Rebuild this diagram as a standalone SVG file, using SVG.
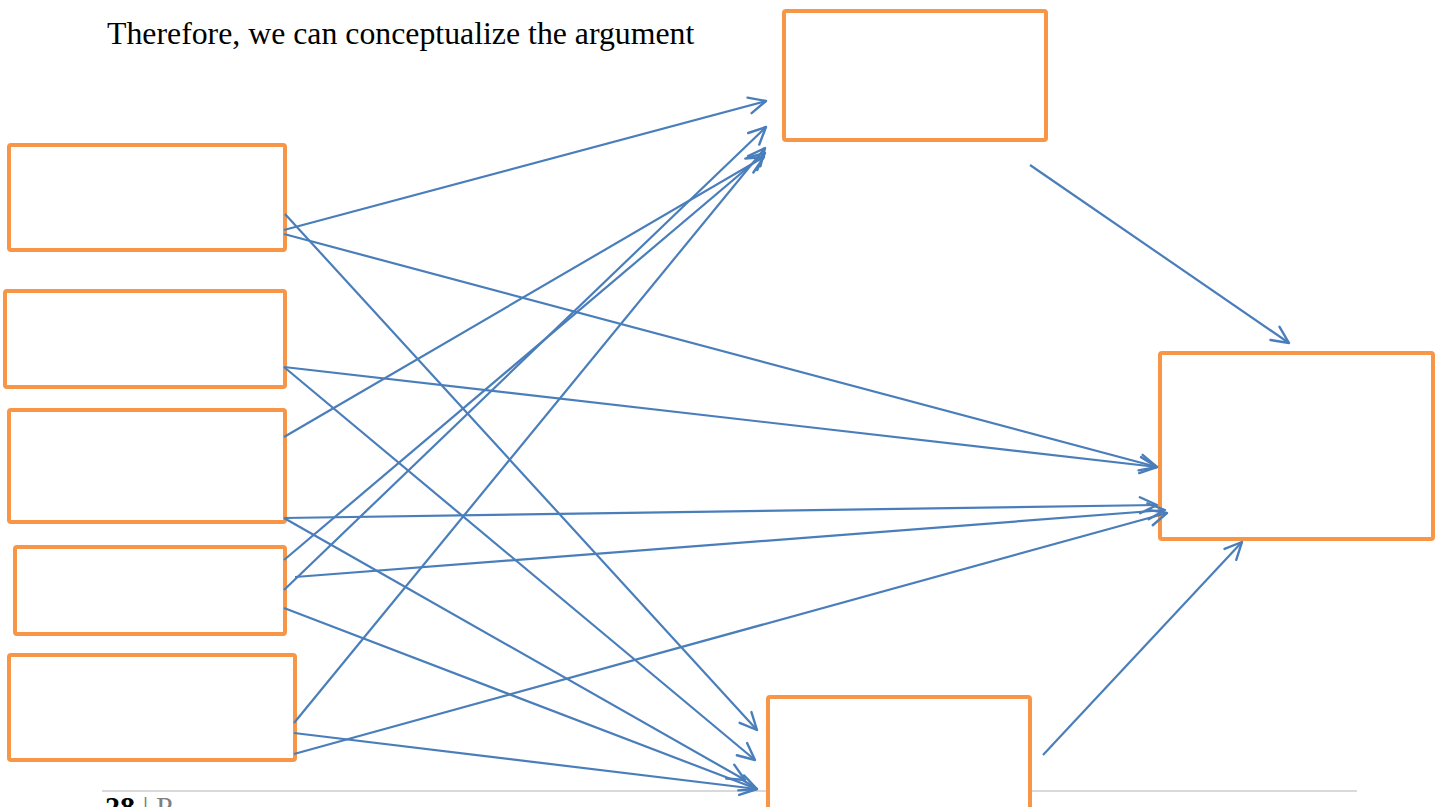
<svg xmlns="http://www.w3.org/2000/svg" width="1442" height="807" viewBox="0 0 1442 807">
<style>
.box{fill:#ffffff;stroke:#F79646;stroke-width:4;}
.c{fill:none;stroke:#4A7EBB;stroke-width:2.2;marker-end:url(#arr);}
.t{font-family:"Liberation Serif","Times New Roman",serif;fill:#000;}
</style>
<defs>
<marker id="arr" markerUnits="userSpaceOnUse" markerWidth="40" markerHeight="40" viewBox="-20 -20 40 40" refX="0" refY="0" orient="auto">
<path d="M-17,-8 L0,0 L-17,8" fill="none" stroke="#4A7EBB" stroke-width="2.4" stroke-linecap="round" stroke-linejoin="round"/>
</marker>
</defs>
<rect width="1442" height="807" fill="#ffffff"/>
<text class="t" x="107" y="44" font-size="31.8">Therefore, we can conceptualize the argument</text>
<line x1="102" y1="791" x2="1357" y2="791" stroke="#D9D9D9" stroke-width="2"/>
<text class="t" x="105" y="817" font-size="30"><tspan font-weight="bold">28</tspan><tspan fill="#7F7F7F"> | P</tspan></text>
<g id="box1"><rect class="box" x="9" y="145" width="276" height="105" rx="2"/></g>
<g id="box2"><rect class="box" x="5" y="291" width="280" height="96" rx="2"/></g>
<g id="box3"><rect class="box" x="9" y="410" width="276" height="112" rx="2"/></g>
<g id="box4"><rect class="box" x="15" y="547" width="270" height="87" rx="2"/></g>
<g id="box5"><rect class="box" x="9" y="655" width="286" height="105" rx="2"/></g>
<g id="boxTop"><rect class="box" x="784" y="11" width="262" height="129" rx="2"/></g>
<g id="boxRight"><rect class="box" x="1160" y="353" width="273" height="186" rx="2"/></g>
<g id="boxBottom"><rect class="box" x="768" y="697" width="262" height="115" rx="2"/></g>
<g id="connectors">
<line class="c" x1="284" y1="230" x2="766" y2="101"/>
<line class="c" x1="284" y1="234" x2="1157" y2="467"/>
<line class="c" x1="285" y1="214" x2="757" y2="730"/>
<line class="c" x1="284" y1="367" x2="1157" y2="467"/>
<line class="c" x1="284" y1="367" x2="755" y2="760"/>
<line class="c" x1="284" y1="437" x2="764" y2="157"/>
<line class="c" x1="284" y1="518" x2="1157" y2="505"/>
<line class="c" x1="284" y1="518" x2="745" y2="780"/>
<line class="c" x1="284" y1="560" x2="765" y2="153"/>
<line class="c" x1="284" y1="590" x2="766" y2="127"/>
<line class="c" x1="295" y1="577" x2="1165" y2="510"/>
<line class="c" x1="284" y1="608" x2="757" y2="789"/>
<line class="c" x1="294" y1="723" x2="765" y2="148"/>
<line class="c" x1="294" y1="733" x2="757" y2="789"/>
<line class="c" x1="294" y1="754" x2="1167" y2="513"/>
<line class="c" x1="1030" y1="165" x2="1289" y2="343"/>
<line class="c" x1="1043" y1="755" x2="1242" y2="542"/>
</g>
</svg>
